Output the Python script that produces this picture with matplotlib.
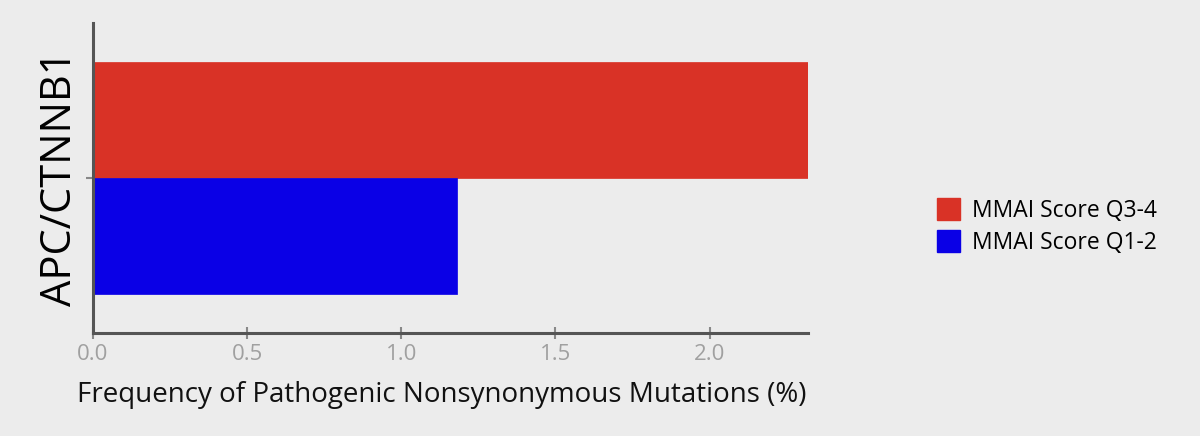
import matplotlib.pyplot as plt
from matplotlib.patches import Patch

gene = "APC/CTNNB1"
groups = ["MMAI Score Q3-4", "MMAI Score Q1-2"]
freqs = [2.32, 1.18]
colors = ["#d93226", "#0a00e6"]
xticks = [0.0, 0.5, 1.0, 1.5, 2.0]

plt.rcParams["font.family"] = ["Open Sans", "DejaVu Sans"]
bg = "#ececec"

fig = plt.figure(figsize=(12, 4.36), dpi=100, facecolor=bg)
ax = fig.add_axes([0.0775, 0.236, 0.596, 0.711], facecolor=bg)

h = 0.4
offsets = [h / 2, -h / 2]
for g, f, c, o in zip(groups, freqs, colors, offsets):
    ax.barh(o, f, height=h, color=c, edgecolor=c, linewidth=0.5, label=g)

ax.set_xlim(0, 2.32)
ax.set_ylim(-0.535, 0.535)
ax.set_xticks(xticks)
ax.set_xticklabels([f"{t:.1f}" for t in xticks])
ax.set_yticks([0])
ax.set_yticklabels([])
ax.set_ylabel(gene, fontsize=30, labelpad=0)
ax.set_xlabel("Frequency of Pathogenic Nonsynonymous Mutations (%)", fontsize=20, color="#111111")
ax.xaxis.set_label_coords(0.488, -0.155)

for s in ["top", "right"]:
    ax.spines[s].set_visible(False)
for s in ["left", "bottom"]:
    ax.spines[s].set_color("#555555")
    ax.spines[s].set_linewidth(2.2)
ax.tick_params(axis="x", direction="inout", length=8, width=1.5, color="#888888",
               labelsize=16, labelcolor="#a0a0a0", pad=4)
ax.tick_params(axis="y", direction="out", length=5, width=1.5, color="#888888")

handles = [Patch(facecolor=c, edgecolor=c) for c in colors]
fig.legend(handles, groups, loc="center left", bbox_to_anchor=(0.764, 0.48),
           frameon=False, fontsize=16.5, handlelength=1.0, handleheight=1.1,
           handletextpad=0.5, labelspacing=0.3)

fig.savefig("out.png", dpi=100, facecolor=bg)
